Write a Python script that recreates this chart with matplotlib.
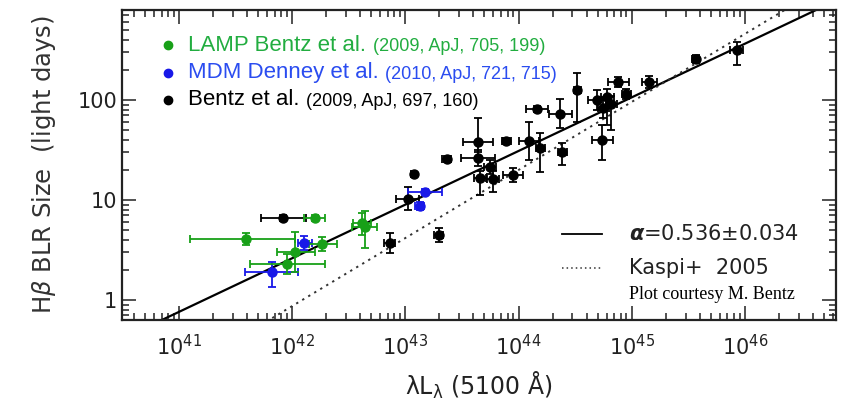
import matplotlib
matplotlib.use("Agg")
import matplotlib.pyplot as plt
import numpy as np
from matplotlib.ticker import LogLocator, FixedLocator, FixedFormatter

# --- data (log10 of lambda L_lambda in erg/s, log10 of R in light days) ---
# errors given in dex: (lower, upper)
lamp_logL = [42.197, 41.594, 42.259, 42.028, 41.949, 42.613, 42.640]
lamp_logL_lo = [0.09, 0.50, 0.11, 0.16, 0.32, 0.08, 0.11]
lamp_logL_hi = [0.09, 0.43, 0.14, 0.17, 0.34, 0.08, 0.11]
lamp_logR = [0.82, 0.61, 0.56, 0.48, 0.36, 0.77, 0.73]
lamp_logR_lo = [0.03, 0.06, 0.07, 0.20, 0.10, 0.12, 0.21]
lamp_logR_hi = [0.03, 0.06, 0.07, 0.20, 0.10, 0.10, 0.16]

mdm_logL = [42.108, 41.824, 43.172, 43.128]
mdm_logL_lo = [0.06, 0.24, 0.15, 0.04]
mdm_logL_hi = [0.07, 0.23, 0.15, 0.04]
mdm_logR = [0.57, 0.28, 1.08, 0.94]
mdm_logR_lo = [0.07, 0.15, 0.03, 0.04]
mdm_logR_hi = [0.07, 0.10, 0.03, 0.04]

b09_logL = [41.922, 43.074, 43.021, 42.862, 43.296, 43.367, 43.642, 43.642,
            43.748, 43.660, 43.775, 43.952, 43.890, 44.094, 44.191, 44.387,
            44.165, 44.369, 44.520, 44.741, 44.697, 44.786, 44.821, 44.750,
            44.883, 44.954, 45.158, 45.566, 45.929]
b09_logL_lo = [0.20, 0.02, 0.10, 0.05, 0.04, 0.04, 0.13, 0.15,
               0.05, 0.05, 0.05, 0.09, 0.04, 0.09, 0.04, 0.04,
               0.10, 0.10, 0.03, 0.09, 0.08, 0.06, 0.05, 0.05,
               0.09, 0.04, 0.065, 0.03, 0.06]
b09_logL_hi = [0.20, 0.02, 0.10, 0.05, 0.04, 0.04, 0.13, 0.15,
               0.05, 0.05, 0.05, 0.09, 0.04, 0.09, 0.04, 0.04,
               0.10, 0.10, 0.03, 0.09, 0.08, 0.06, 0.05, 0.05,
               0.09, 0.04, 0.07, 0.03, 0.06]
b09_logR = [0.82, 1.26, 1.01, 0.57, 0.65, 1.41, 1.58, 1.42,
            1.33, 1.22, 1.21, 1.25, 1.59, 1.59, 1.52, 1.48,
            1.91, 1.86, 2.10, 1.60, 2.00, 2.03, 1.96, 1.92,
            2.18, 2.06, 2.18, 2.41, 2.50]
b09_logR_lo = [0.03, 0.02, 0.11, 0.10, 0.07, 0.03, 0.10, 0.08,
               0.07, 0.17, 0.13, 0.07, 0.03, 0.19, 0.24, 0.13,
               0.03, 0.14, 0.32, 0.20, 0.10, 0.28, 0.26, 0.10,
               0.05, 0.05, 0.06, 0.04, 0.15]
b09_logR_hi = [0.03, 0.02, 0.12, 0.10, 0.07, 0.03, 0.24, 0.08,
               0.07, 0.07, 0.08, 0.07, 0.03, 0.19, 0.15, 0.09,
               0.03, 0.15, 0.17, 0.15, 0.10, 0.08, 0.08, 0.10,
               0.05, 0.05, 0.06, 0.04, 0.08]

# R-L relations: log R = K + alpha * (log L - 44)
fit_K, fit_alpha = 1.49, 0.536
kaspi_K, kaspi_alpha = 1.30, 0.68

GREEN = '#18a018'
BLUE = '#1818e8'


def to_lin(logv, lo, hi):
    logv, lo, hi = np.asarray(logv), np.asarray(lo), np.asarray(hi)
    v = 10 ** logv
    return v, np.vstack([v - 10 ** (logv - lo), 10 ** (logv + hi) - v])


fig = plt.figure(figsize=(8.51, 4.0), dpi=100)
ax = fig.add_axes([0.1434, 0.2, 0.839, 0.775])
ax.set_xscale('log')
ax.set_yscale('log')

# relations
lx = np.linspace(40.4, 46.9, 50)
ax.plot(10 ** lx, 10 ** (fit_K + fit_alpha * (lx - 44)), color='black', lw=1.6, zorder=2)
ax.plot(10 ** lx, 10 ** (kaspi_K + kaspi_alpha * (lx - 44)), color='#333333', lw=1.4,
        ls=(0, (1.2, 2.4)), zorder=2)

for logL, llo, lhi, logR, rlo, rhi, col in [
        (b09_logL, b09_logL_lo, b09_logL_hi, b09_logR, b09_logR_lo, b09_logR_hi, 'black'),
        (mdm_logL, mdm_logL_lo, mdm_logL_hi, mdm_logR, mdm_logR_lo, mdm_logR_hi, BLUE),
        (lamp_logL, lamp_logL_lo, lamp_logL_hi, lamp_logR, lamp_logR_lo, lamp_logR_hi, GREEN)]:
    L, Lerr = to_lin(logL, llo, lhi)
    R, Rerr = to_lin(logR, rlo, rhi)
    ax.errorbar(L, R, xerr=Lerr, yerr=Rerr, fmt='o', color=col, ms=6.5,
                elinewidth=1.3, capsize=3, capthick=1.3, zorder=3)

ax.set_xlim(10 ** 40.495, 10 ** 46.807)
ax.set_ylim(10 ** -0.2, 10 ** 2.9)

ax.xaxis.set_major_locator(FixedLocator([1e41, 1e42, 1e43, 1e44, 1e45, 1e46]))
ax.xaxis.set_major_formatter(FixedFormatter([r'$10^{%d}$' % e for e in range(41, 47)]))
ax.xaxis.set_minor_locator(LogLocator(base=10, subs=np.arange(2, 10), numticks=20))
ax.yaxis.set_major_locator(FixedLocator([1, 10, 100]))
ax.yaxis.set_major_formatter(FixedFormatter(['1', '10', '100']))
ax.yaxis.set_minor_locator(LogLocator(base=10, subs=np.arange(2, 10), numticks=20))

ax.tick_params(which='both', direction='in', top=True, right=True, width=1.1,
               labelsize=15, colors='#222222')
ax.tick_params(which='major', length=10)
ax.tick_params(which='minor', length=5)
ax.tick_params(axis='x', pad=10)
for s in ax.spines.values():
    s.set_linewidth(1.6)
    s.set_color('#222222')

ax.set_ylabel(r'H$\beta$ BLR Size  (light days)', fontsize=17.5, color='#333333', labelpad=14)
ax.set_xlabel(r'λL$_{\mathregular{λ}}$ (5100 Å)', fontsize=17, color='#222222', labelpad=8)

# legend for the samples
legend_rows = [
    ('LAMP Bentz et al.', '(2009, ApJ, 705, 199)', '#22ad40', GREEN, 0.887),
    ('MDM Denney et al.', '(2010, ApJ, 721, 715)', '#2a4cf0', BLUE, 0.797),
    ('Bentz et al.', '(2009, ApJ, 697, 160)', 'black', 'black', 0.710),
]
for main, ref, tcol, mcol, y in legend_rows:
    ax.plot([0.064], [y], 'o', color=mcol, ms=6, transform=ax.transAxes, clip_on=False)
    t = ax.text(0.092, y, main, transform=ax.transAxes, fontsize=16,
                family='Liberation Sans', color=tcol, va='center')
    ax.annotate(ref, xy=(1, 0.5), xycoords=t, xytext=(5, -1), textcoords='offset points',
                fontsize=13, family='Liberation Sans', color=tcol, va='center')

# legend for the relations
ax.plot([0.616, 0.672], [0.277, 0.277], color='black', lw=1.3, transform=ax.transAxes)
ax.plot([0.616, 0.672], [0.168, 0.168], color='#333333', lw=1.1, ls=(0, (1, 2)),
        transform=ax.transAxes)
ax.text(0.710, 0.277, r'$\boldsymbol{\alpha}$=0.536±0.034', transform=ax.transAxes,
        fontsize=15, color='#222222', va='center')
ax.text(0.710, 0.168, 'Kaspi+  2005', transform=ax.transAxes, fontsize=15,
        color='#222222', va='center')
ax.text(0.710, 0.082, 'Plot courtesy M. Bentz', transform=ax.transAxes, fontsize=13,
        family='Liberation Serif', color='black', va='center')

fig.savefig('out.png', dpi=100)
